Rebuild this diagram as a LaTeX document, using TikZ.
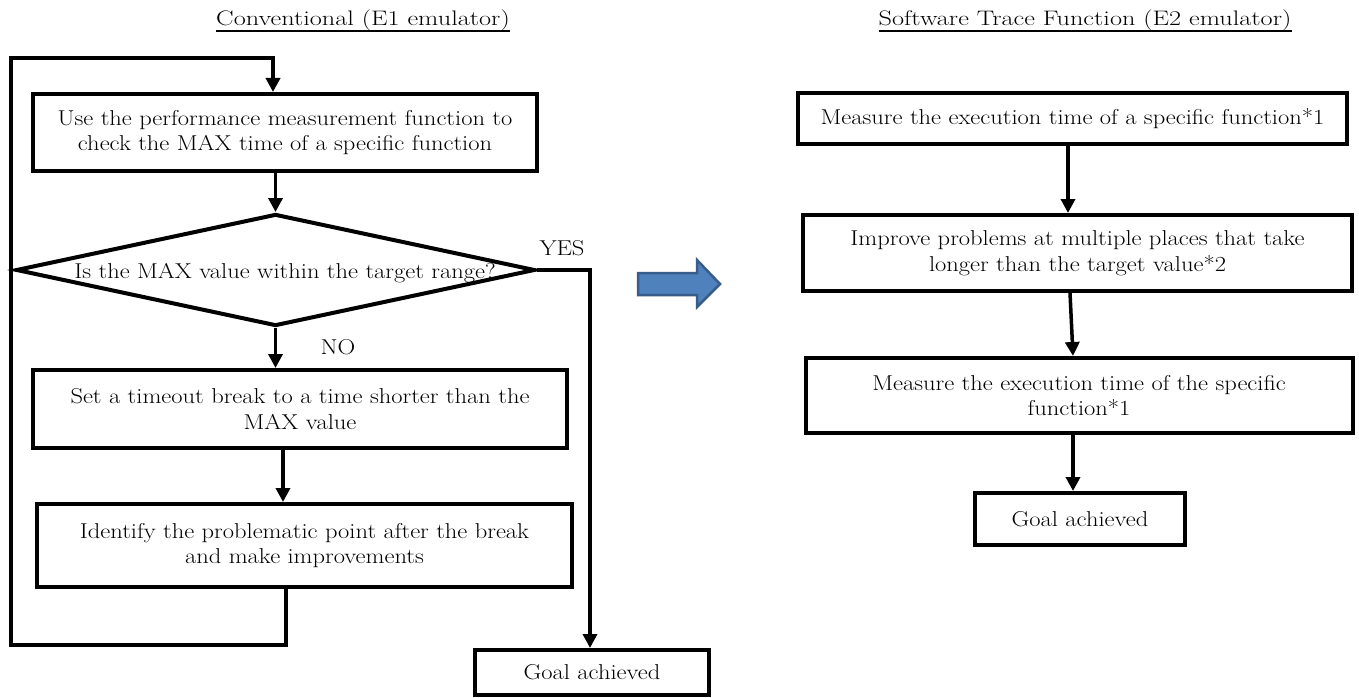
\documentclass[tikz,border=0pt]{standalone}
\usepackage{fontspec}
\setmainfont{Latin Modern Roman}[FakeStretch=1.14]
\newfontfamily\titlefam{Latin Modern Roman}[FakeStretch=1.25]
\usetikzlibrary{arrows.meta,shapes.geometric,calc}
\newcommand\boxfnt{\fontsize{21.5}{25.7}\selectfont}
\newcommand\titfnt{\titlefam\fontsize{21}{24}\selectfont}
\begin{document}
\begin{tikzpicture}[x=1pt,y=-1pt,
  box/.style={draw, line width=4pt, align=center, inner sep=0pt, font=\boxfnt},
  lbl/.style={inner sep=0pt, font=\boxfnt},
  tit/.style={inner sep=0pt, anchor=base, font=\titfnt},
  arr/.style={line width=3.5pt, -{Triangle[length=14pt,width=14pt]}},
  loopline/.style={line width=4.5pt, line join=miter, -{Triangle[length=14pt,width=14pt]}},
  bigarrow/.style={fill=arrfill, draw=arrdraw, line width=2.5pt, line join=miter}
]
\definecolor{arrfill}{HTML}{4F81BD}
\definecolor{arrdraw}{HTML}{385D8A}
\useasboundingbox (0,0) rectangle (1359,698);
\fill[white] (0,0) rectangle (1359,698);

% titles
\node[tit] (t1) at (363,26) {Conventional (E1 emulator)};
\draw[line width=2pt] ($(t1.base west)+(0,5)$) -- ($(t1.base east)+(0,5)$);
\node[tit] (t2) at (1085,26) {Software Trace Function (E2 emulator)};
\draw[line width=2pt] ($(t2.base west)+(0,5)$) -- ($(t2.base east)+(0,5)$);

% left flow
\node[box, minimum width=504, minimum height=77] (b1) at (285,132.5)
  {Use the performance measurement function to\\check the MAX time of a specific function};
\node[draw, diamond, line width=4pt, minimum width=519, minimum height=112, inner sep=0pt] (d) at (275.5,270) {};
\node[lbl] (dt) at (285,273) {Is the MAX value within the target range?};
\node[lbl] (yes) at (562,248) {YES};
\node[lbl] (no) at (338,347) {NO};
\node[box, minimum width=534, minimum height=78] (b2) at (300,409)
  {Set a timeout break to a time shorter than the\\MAX value};
\node[box, minimum width=535, minimum height=83] (b3) at (304.5,545.5)
  {Identify the problematic point after the break\\and make improvements};
\node[box, minimum width=234, minimum height=45] (gl) at (592,672.5) {Goal achieved};

\coordinate (lb) at (286,645);
\coordinate (ll) at (11,645);
\coordinate (lt) at (11,58);
\coordinate (ltr) at (273,58);
\coordinate (yc) at (590,270);

\draw[loopline] (b3.south -| lb) -- (lb) -- (ll) -- (lt) -- (ltr) -- (ltr |- b1.north);
\draw[arr] (b1.south -| d.north) -- (d.north);
\draw[arr] (d.south) -- (d.south |- b2.north);
\draw[arr] ([xshift=-17pt]b2.south) -- ([xshift=-17pt]b2.south |- b3.north);
\draw[arr, line join=miter] (d.east) -- (yc) -- (yc |- gl.north);

% big blue arrow
\draw[bigarrow] (638,273) -- (697,273) -- (697,260) -- (720,284) -- (697,307) -- (697,295) -- (638,295) -- cycle;

% right flow
\node[box, minimum width=549, minimum height=51] (r1) at (1072.5,118.5)
  {Measure the execution time of a specific function*1};
\node[box, minimum width=549, minimum height=76] (r2) at (1077.5,253)
  {Improve problems at multiple places that take\\longer than the target value*2};
\node[box, minimum width=547, minimum height=75] (r3) at (1079,395.5)
  {Measure the execution time of the specific\\function*1};
\node[box, minimum width=210, minimum height=52] (gr) at (1080,519) {Goal achieved};

\draw[arr] ([xshift=-4.5pt]r1.south) -- ([xshift=-4.5pt]r1.south |- r2.north);
\draw[arr] ([xshift=-7.5pt]r2.south) -- ([xshift=-6pt]r3.north);
\draw[arr] ([xshift=-6pt]r3.south) -- ([xshift=-6pt]r3.south |- gr.north);
\end{tikzpicture}
\end{document}
